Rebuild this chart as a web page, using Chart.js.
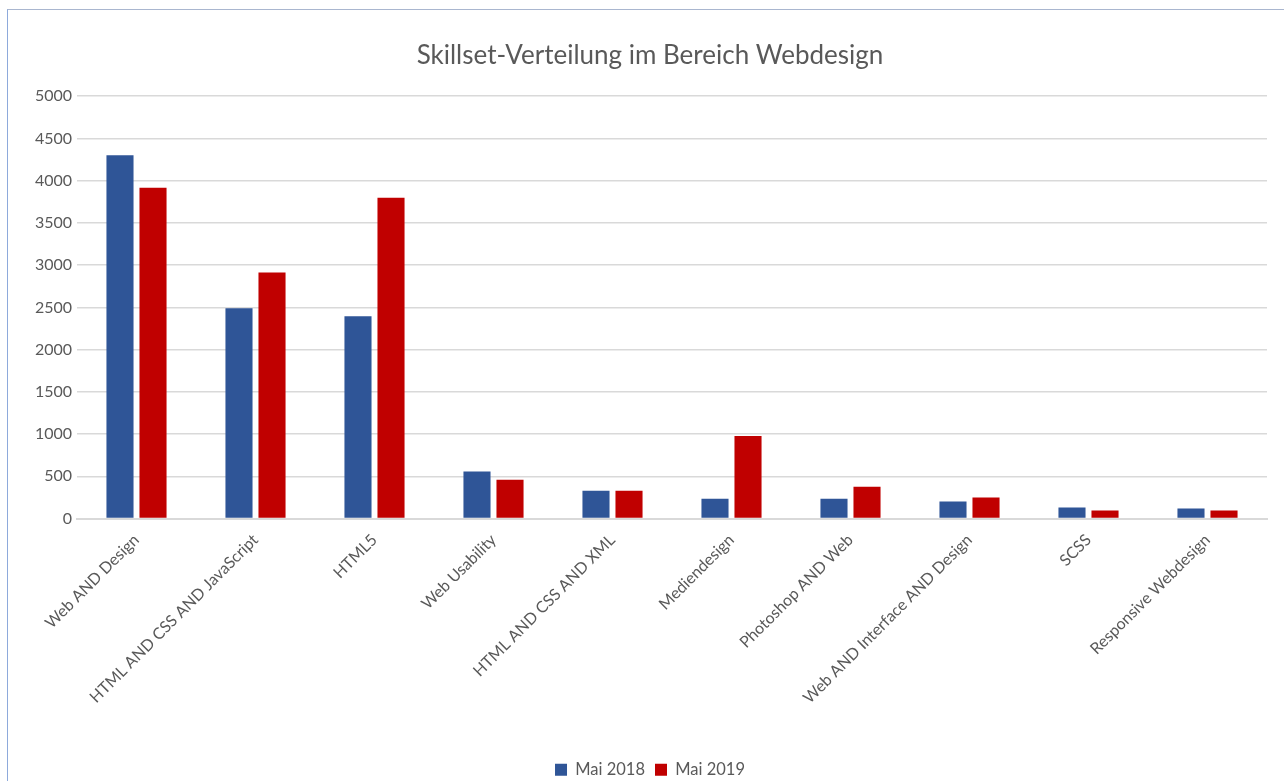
<!DOCTYPE html>
<html>
<head>
<meta charset="utf-8">
<script src="https://cdn.jsdelivr.net/npm/chart.js@4"></script>
<style>
  html, body { margin: 0; padding: 0; background: #fff; overflow: hidden; }
  #frame {
    position: absolute; left: 7px; top: 9px;
    width: 1290px; height: 790px;
    border-left: 1px solid #8eaadb;
    border-top: 1px solid #a9b6cf;
  }
  #chartBox { position: absolute; left: 1px; top: 1px; width: 1282px; height: 777px; }
</style>
</head>
<body>
<div id="frame">
  <div id="chartBox"><canvas id="skillChart"></canvas></div>
</div>
<script>
const categories = [
  "Web AND Design",
  "HTML AND CSS AND JavaScript",
  "HTML5",
  "Web Usability",
  "HTML AND CSS AND XML",
  "Mediendesign",
  "Photoshop AND Web",
  "Web AND Interface AND Design",
  "SCSS",
  "Responsive Webdesign"
];
const mai2018 = [4300, 2490, 2395, 555, 330, 235, 235, 200, 130, 118];
const mai2019 = [3915, 2913, 3797, 460, 330, 978, 377, 248, 94, 94];
const yTicks = [0, 500, 1000, 1500, 2000, 2500, 3000, 3500, 4000, 4500, 5000];

const textColor = "#595959";
const gridColor = "#d9d9d9";
const fontName = "Lato, 'Open Sans', sans-serif";

new Chart(document.getElementById("skillChart"), {
  type: "bar",
  data: {
    labels: categories,
    datasets: [
      { label: "Mai 2018", data: mai2018, backgroundColor: "#2f5597" },
      { label: "Mai 2019", data: mai2019, backgroundColor: "#c00000" }
    ]
  },
  options: {
    responsive: true,
    maintainAspectRatio: false,
    animation: false,
    layout: { padding: 0 },
    datasets: { bar: { categoryPercentage: 0.555, barPercentage: 0.82 } },
    plugins: {
      title: {
        display: true,
        text: "Skillset-Verteilung im Bereich Webdesign",
        color: textColor,
        font: { family: fontName, size: 26, weight: "normal" },
        padding: { top: 29, bottom: 25 }
      },
      legend: {
        position: "bottom",
        labels: {
          color: textColor,
          font: { family: fontName, size: 16.5 },
          boxWidth: 12,
          boxHeight: 12,
          padding: 10
        }
      },
      tooltip: { enabled: false }
    },
    scales: {
      x: {
        grid: { display: false },
        border: { color: gridColor, width: 2 },
        ticks: {
          color: textColor,
          font: { family: fontName, size: 16 },
          minRotation: 45,
          maxRotation: 45,
          autoSkip: false,
          padding: 4
        },
        afterFit: scale => { scale.height = 233; }
      },
      y: {
        min: 0,
        max: 5000,
        afterBuildTicks: scale => { scale.ticks = yTicks.map(v => ({ value: v })); },
        grid: { color: gridColor, lineWidth: 1.5, drawTicks: false },
        border: { display: false },
        ticks: {
          color: textColor,
          font: { family: fontName, size: 16 },
          padding: 5,
          callback: value => String(value)
        },
        afterFit: scale => { scale.width = 68; }
      },
      // empty right-hand gutter so title and legend stay centred on the full width
      gutter: {
        position: "right",
        grid: { display: false },
        border: { display: false },
        ticks: { display: false },
        afterFit: scale => { scale.width = 24; }
      }
    }
  }
});
</script>
</body>
</html>
